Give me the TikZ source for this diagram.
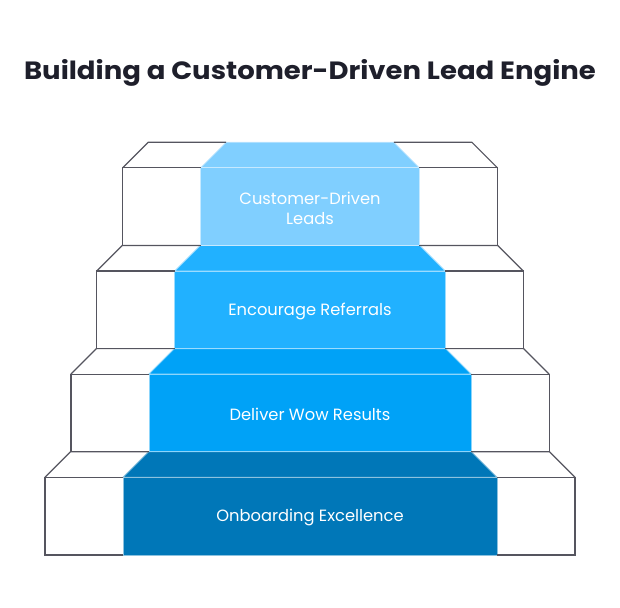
\documentclass[tikz,border=0pt]{standalone}
\usepackage{fontspec}
\setmainfont{Poppins}
\newfontfamily\titlefont[FakeStretch=1.1]{Poppins}
\usepackage{tikz}

\definecolor{lvlA}{HTML}{0077B8}
\definecolor{lvlB}{HTML}{00A2F7}
\definecolor{lvlC}{HTML}{21B1FF}
\definecolor{lvlD}{HTML}{80CFFF}
\definecolor{edgegray}{HTML}{55555F}
\definecolor{titleink}{HTML}{1E1F2B}

\tikzset{
  outline/.style={draw=edgegray, line width=1.2pt, line join=miter},
  stepface/.style={fill=#1, draw=white!55!#1, line width=0.8pt},
  steplabel/.style={text=white, align=center, font=\fontsize{16.3}{19.5}\selectfont},
}

\begin{document}
\begin{tikzpicture}[x=1pt, y=-1pt]
\useasboundingbox (0,0) rectangle (620,607);
\node[anchor=base, text=titleink, font=\titlefont\fontsize{25}{30}\selectfont\bfseries] (title) at (310,79.3) {Building a Customer-Driven Lead Engine};

\foreach \i/\col/\txt in {1/lvlA/{Onboarding Excellence}, 2/lvlB/{Deliver Wow Results}, 3/lvlC/{Encourage Referrals}, 4/lvlD/{Customer-Driven\\Leads}} {
  \pgfmathsetmacro\yT{477.3-103.2*(\i-1)}
  \pgfmathsetmacro\yB{\yT+77.7}
  \pgfmathsetmacro\yK{\yT-25.5}
  \pgfmathsetmacro\W{265-25.9*(\i-1)}
  \pgfmathsetmacro\w{187-25.9*(\i-1)}
  % blue stair
  \draw[stepface=\col] (310-\w,\yT) -- (310-\w+25.5,\yK) -- (310+\w-25.5,\yK) -- (310+\w,\yT) -- cycle;
  \draw[stepface=\col] (310-\w,\yT) rectangle (310+\w,\yB);
  % side blocks
  \draw[outline] (310-\w,\yT) -- (310-\W,\yT) -- (310-\W,\yB) -- (310-\w,\yB);
  \draw[outline] (310-\W,\yT) -- (310-\W+25.5,\yK) -- (310-\w+25.5,\yK);
  \draw[outline] (310+\w,\yT) -- (310+\W,\yT) -- (310+\W,\yB) -- (310+\w,\yB);
  \draw[outline] (310+\W,\yT) -- (310+\W-25.5,\yK) -- (310+\w-25.5,\yK);
  \node[steplabel] (lbl\i) at (310,{\yT+40.5}) {\txt};
}
\end{tikzpicture}
\end{document}
